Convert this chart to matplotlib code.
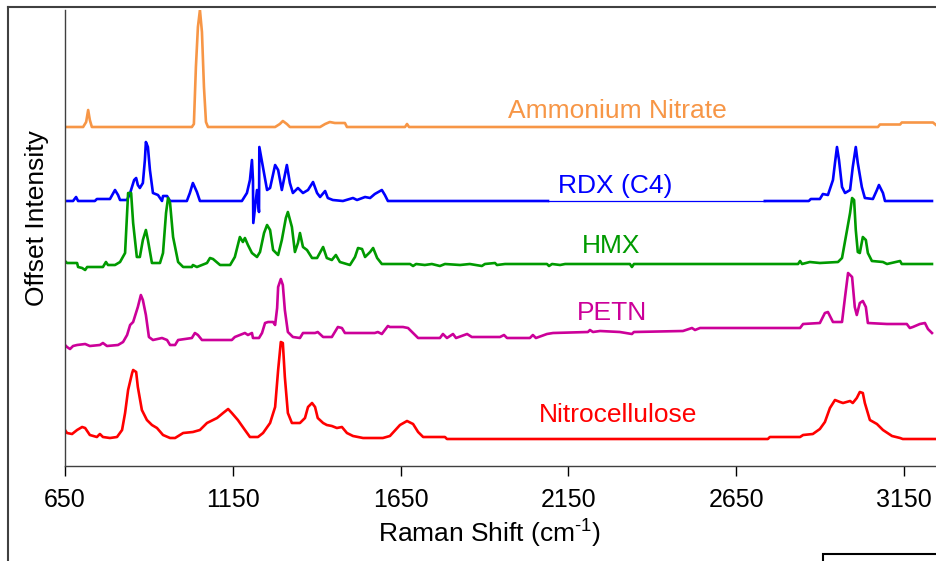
import numpy as np
import matplotlib.pyplot as plt
from matplotlib.lines import Line2D
from matplotlib.patches import Rectangle

plt.rcParams['font.family'] = ['Liberation Sans', 'DejaVu Sans']
plt.rcParams['mathtext.fontset'] = 'custom'
plt.rcParams['mathtext.rm'] = 'Liberation Sans'
plt.rcParams['mathtext.it'] = 'Liberation Sans'
plt.rcParams['mathtext.default'] = 'regular'

# Raman shift (cm-1) / relative intensity for each explosive
an_shift = [650, 704, 713, 719, 724, 730, 1028, 1034, 1040, 1046, 1052, 1058, 1064, 1070, 1076,
            1276, 1290, 1299, 1311, 1320, 1410, 1425, 1439, 1454, 1484, 1490, 1663, 1669, 1675,
            3072, 3078, 3138, 3143, 3236, 3245]
an_int = [0, 0, 5, 17, 7, 0, 0, 3, 60, 100, 117, 95, 40, 5, 0,
          0, 3, 6, 3, 0, 0, 3, 5, 4, 4, 0, 0, 3, 0,
          0, 2.5, 2.5, 4.5, 4.5, 2]

rdx_shift = [650, 674, 683, 689, 739, 745, 784, 799, 808, 814, 835, 844, 856, 862, 867, 873, 882,
             888, 891, 897, 903, 912, 927, 939, 942, 954, 963, 1013, 1022, 1031, 1043, 1052,
             1177, 1192, 1201, 1207, 1210, 1211, 1222, 1228, 1229, 1252, 1261, 1276, 1285, 1296,
             1311, 1320, 1329, 1344, 1359, 1374, 1389, 1401, 1410, 1425, 1433, 1448, 1478, 1508,
             1520, 1544, 1559, 1573, 1594, 1603, 1612, 2089, 2735, 2866, 2872, 2899, 2908, 2923,
             2938, 2944, 2950, 2956, 2965, 2974, 2989, 2997, 3006, 3012, 3024, 3033, 3057, 3069,
             3075, 3087, 3093, 3233]
rdx_int = [0, 0, 4, 0, 0, 2, 2, 11, 6, 1, 1, 8, 21, 23, 16, 13, 18,
           41, 59, 54, 31, 8, 6, 0, 5, 5, 0, 0, 8, 18, 9, 0,
           0, 8, 21, 41, 21, -22, 11, -11, 54, 11, 13, 36, 31, 11,
           36, 18, 8, 13, 8, 11, 19, 8, 4, 10, 3, 1, 0, 3,
           1, 4, 3, 7, 11, 6, 0, 0, 0, 0, 2, 2, 7, 6,
           21, 38, 54, 41, 14, 8, 11, 34, 54, 38, 14, 3, 2, 11,
           16, 8, 0, 0]

hmx_shift = [650, 656, 686, 689, 701, 710, 716, 763, 772, 778, 799, 814, 829, 838, 847, 853, 864,
             873, 882, 891, 897, 909, 933, 942, 951, 957, 963, 972, 987, 1002, 1028, 1031, 1043,
             1073, 1082, 1091, 1112, 1142, 1156, 1171, 1180, 1186, 1195, 1207, 1222, 1231, 1243,
             1252, 1261, 1270, 1285, 1296, 1308, 1314, 1326, 1335, 1344, 1350, 1359, 1371, 1386,
             1401, 1419, 1430, 1445, 1457, 1469, 1499, 1514, 1523, 1535, 1544, 1559, 1568, 1580,
             1594, 1678, 1687, 1696, 1722, 1743, 1767, 1782, 1827, 1856, 1892, 1901, 1931, 1937,
             1961, 2086, 2092, 2101, 2125, 2140, 2333, 2339, 2345, 2834, 2840, 2846, 2869, 2899,
             2953, 2965, 2980, 2989, 2995, 3001, 3006, 3012, 3018, 3027, 3036, 3042, 3054, 3087,
             3099, 3138, 3143, 3233]
hmx_int = [3, 1, 1, -3, -4, -6, -3, -3, 2, -1, -1, 2, 11, 71, 71, 41, 7,
           7, 24, 34, 24, 1, 1, 11, 51, 66, 61, 27, 2, -3, -3, -1, -3,
           1, 6, 5, -1, -1, 7, 27, 22, 26, 19, 11, 7, 12, 31,
           39, 34, 14, 9, 24, 46, 52, 37, 12, 21, 31, 17, 14, 6,
           6, 17, 6, 4, 9, 2, -1, 7, 16, 15, 7, 12, 16, 6,
           0, 0, -2, 0, -1, 0, -2, 0, -1, 0, -2, 0, 1, -1,
           0, 0, -2, 0, -1, 0, 0, -3, 0, 0, 3, 0, 2, 1,
           2, 6, 34, 51, 66, 64, 34, 12, 11, 27, 24, 11, 3, 2,
           0, 3, 0, 0]

petn_shift = [650, 656, 665, 674, 686, 710, 724, 754, 763, 775, 808, 823, 835, 844, 853, 867, 876,
              882, 891, 900, 912, 939, 954, 963, 978, 987, 1028, 1037, 1046, 1058, 1147, 1156,
              1186, 1195, 1207, 1210, 1228, 1237, 1246, 1255, 1270, 1276, 1282, 1285, 1293, 1299,
              1305, 1314, 1329, 1350, 1359, 1395, 1403, 1419, 1445, 1454, 1463, 1475, 1484, 1573,
              1582, 1594, 1612, 1618, 1657, 1672, 1687, 1702, 1767, 1776, 1788, 1806, 1815, 1848,
              1862, 1946, 1958, 1967, 2035, 2044, 2053, 2086, 2104, 2208, 2214, 2223, 2244, 2303,
              2339, 2345, 2491, 2518, 2527, 2542, 2840, 2849, 2899, 2914, 2923, 2938, 2965, 2974,
              2983, 2995, 3003, 3009, 3018, 3027, 3036, 3042, 3099, 3158, 3167, 3176, 3197, 3212,
              3221, 3233]
petn_int = [-7, -9, -11, -8, -7, -6, -8, -7, -5, -8, -7, -4, 3, 13, 16, 31, 43,
            38, 23, 1, -2, 0, -2, -7, -7, -2, 0, 5, 3, -2, -2, 1,
            5, 3, 5, 0, 0, 5, 15, 16, 16, 13, 30, 51, 59, 53,
            28, 6, 1, 0, 5, 5, 6, 1, 1, 6, 11, 10, 5, 5,
            6, 4, 12, 11, 11, 10, 5, 0, 0, 4, 0, 4, 0, 4,
            1, 1, 3, 0, 0, 3, 0, 4, 5, 6, 8, 6, 7, 6,
            4, 6, 7, 10, 8, 10, 10, 14, 15, 25, 26, 16, 16, 41,
            65, 61, 31, 23, 35, 37, 31, 15, 14, 14, 10, 11, 14, 15,
            9, 5]

nc_shift = [650, 656, 671, 686, 701, 710, 724, 745, 754, 763, 784, 805, 820, 829, 838, 850, 853,
            862, 867, 879, 894, 909, 924, 942, 963, 978, 1002, 1031, 1052, 1073, 1103, 1121,
            1136, 1147, 1165, 1186, 1201, 1225, 1240, 1261, 1276, 1285, 1293, 1299, 1305, 1314,
            1326, 1350, 1365, 1374, 1386, 1395, 1403, 1419, 1430, 1445, 1460, 1475, 1490, 1508,
            1538, 1597, 1618, 1648, 1669, 1687, 1702, 1717, 1782, 1788, 2744, 2750, 2840, 2849,
            2878, 2899, 2914, 2929, 2944, 2959, 2968, 2989, 2997, 3009, 3018, 3027, 3033, 3048,
            3069, 3087, 3114, 3138, 3146, 3245]
nc_int = [8, 5, 4, 8, 11, 10, 3, 1, 4, 1, 0, 1, 8, 25, 48, 65, 68,
          66, 51, 28, 18, 13, 10, 3, 0, 0, 5, 6, 8, 15, 20, 25,
          29, 25, 18, 8, 1, 1, 5, 15, 31, 68, 96, 95, 61, 25,
          15, 15, 20, 31, 35, 31, 20, 15, 13, 12, 10, 11, 5, 2,
          0, 0, 2, 13, 17, 14, 6, 1, 1, -1, -1, 1, 1, 3,
          4, 9, 16, 30, 38, 36, 35, 37, 35, 40, 46, 45, 35, 18,
          14, 8, 2, 0, -1, -1]

names = ['Ammonium Nitrate', 'RDX (C4)', 'HMX', 'PETN', 'Nitrocellulose']
colors = ['#F79646', '#0000FF', '#009A00', '#CC0099', '#FF0000']
offsets = [339, 265, 202, 128, 28]
label_x = [2297, 2288, 2277, 2280, 2297]
label_y = [348, 273, 213, 146, 44]

shifts = [an_shift, rdx_shift, hmx_shift, petn_shift, nc_shift]
intensities = [an_int, rdx_int, hmx_int, petn_int, nc_int]

W, H = 936, 561
fig = plt.figure(figsize=(W / 100, H / 100), dpi=100)
ax = fig.add_axes([65 / W, 95 / H, 871 / W, 456 / H])

for name, c, off, x, y, lx, ly in zip(names, colors, offsets, shifts, intensities, label_x, label_y):
    x = np.array(x, dtype=float)
    y = np.array(y, dtype=float) + off
    if name == 'RDX (C4)':
        # the empty 2089-2735 stretch of the RDX trace is drawn as a thin line
        gap = (x >= 2089) & (x <= 2735)
        ax.plot(x[gap], y[gap], color=c, lw=0.9)
        ax.plot(x[x <= 2089], y[x <= 2089], color=c, lw=1.9)
        ax.plot(x[x >= 2735], y[x >= 2735], color=c, lw=1.9)
    else:
        ax.plot(x, y, color=c, lw=1.9)
    ax.text(lx, ly, name, color=c, fontsize=19, ha='center', va='baseline')

ax.set_xlim(650, 3245)
ax.set_ylim(0, 456)
ax.set_xticks([650, 1150, 1650, 2150, 2650, 3150])
ax.set_yticks([])
ax.tick_params(axis='x', direction='out', length=7, width=1, labelsize=18, pad=9)
for s in ['top', 'right']:
    ax.spines[s].set_visible(False)
for s in ['left', 'bottom']:
    ax.spines[s].set_color('#404040')
    ax.spines[s].set_linewidth(1)

fig.text(490 / W, 1 - 534 / H, r'Raman Shift (cm$^{\text{-1}}$)', fontsize=19,
         ha='center', va='center')
fig.text(37 / W, 1 - 218 / H, 'Offset Intensity', fontsize=19, rotation=90,
         ha='center', va='center')

# outer frame lines and the corner of the box below
fig.add_artist(Line2D([8 / W, 1], [554 / H, 554 / H], color='#404040', lw=1.5))
fig.add_artist(Line2D([8 / W, 8 / W], [0, 554 / H], color='#404040', lw=1.5))
fig.add_artist(Rectangle((823 / W, -0.05), 0.2, 0.05 + 7 / H, fill=False,
                         edgecolor='black', lw=1.5))

fig.savefig('out.png', dpi=100)
